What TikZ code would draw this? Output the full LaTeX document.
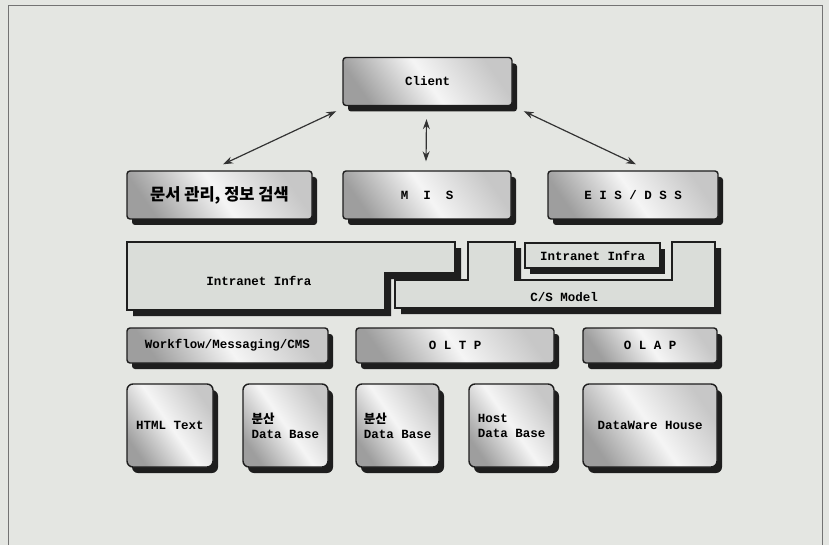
\documentclass[tikz,border=0pt]{standalone}
\usepackage{fontspec}
\newfontfamily\monofont{Liberation Mono}
\newfontfamily\krfont{Noto Sans CJK KR}
\usetikzlibrary{arrows.meta, shadows}
\definecolor{paper}{RGB}{228,230,226}
\definecolor{slab}{RGB}{218,221,217}
\definecolor{edge}{RGB}{30,30,30}

\begin{document}
\begin{tikzpicture}[x=1pt, y=-1pt,
  card/.style={draw=edge, line width=1.4pt, rounded corners=3pt,
    left color=black!38, right color=black!22, middle color=white!96!black, shading angle=125,
    drop shadow={shadow xshift=5pt, shadow yshift=-6pt, fill=edge, opacity=1},
    font=\monofont\bfseries\fontsize{12.5}{15}\selectfont, align=center},
  wide/.style={card, minimum height=48pt},
  flat/.style={card, minimum height=35pt},
  tall/.style={card, rounded corners=6pt, minimum height=83pt, align=left},
  link/.style={<->, >={Stealth[length=10pt,width=7pt]}, line width=1.2pt, draw=black!80},
  slabline/.style={draw=edge, line width=1.4pt, fill=slab},
  txt/.style={font=\monofont\bfseries\fontsize{12.5}{15}\selectfont}]
  \useasboundingbox (0,0) rectangle (829,545);
  \fill[paper] (0,0) rectangle (829,545);
  \draw[black!55, line width=1pt] (8,545) -- (8,6) -- (822,6) -- (822,545);

  % client and applications
  \node[wide, minimum width=169pt] (client) at (427.5,81.5) {Client};
  \node[wide, minimum width=185pt, font=\krfont\bfseries\fontsize{16.5}{19}\selectfont] (doc) at (219.5,195) {문서 관리, 정보 검색};
  \node[wide, minimum width=168pt] (mis) at (427,195) {M~~I~~S};
  \node[wide, minimum width=170pt] (eis) at (633,195) {E I S / D S S};

  \draw[link] ([shift={(-6pt,-5pt)}]client.south west) -- ([shift={(3.5pt,6pt)}]doc.north);
  \draw[link] ([shift={(-1pt,-13pt)}]client.south) -- ([shift={(-1pt,9pt)}]mis.north);
  \draw[link] ([shift={(11pt,-5pt)}]client.south east) -- ([shift={(3pt,6pt)}]eis.north);

  % infra layer
  \fill[edge, shift={(6,6)}] (127,242) -- (455,242) -- (455,273) -- (385,273) -- (385,310) -- (127,310) -- cycle;
  \path[slabline] (127,242) -- (455,242) -- (455,273) -- (385,273) -- (385,310) -- (127,310) -- cycle;
  \fill[edge, shift={(6,6)}] (395,308) -- (395,280) -- (468,280) -- (468,242) -- (515,242) -- (515,280)
    -- (672,280) -- (672,242) -- (715,242) -- (715,308) -- cycle;
  \path[slabline] (395,308) -- (395,280) -- (468,280) -- (468,242) -- (515,242) -- (515,280)
    -- (672,280) -- (672,242) -- (715,242) -- (715,308) -- cycle;
  \node[txt] (infraL) at (259,281) {Intranet Infra};
  \node[txt] (csmodel) at (564,297) {C/S Model};
  \node[slabline, txt, minimum width=135pt, minimum height=25pt,
    drop shadow={shadow xshift=5pt, shadow yshift=-6pt, fill=edge, opacity=1}] (infraR) at (592.5,255.5) {Intranet Infra};

  % middleware
  \node[flat, minimum width=201pt] (wf) at (227.5,345.5) {Workflow/Messaging/CMS};
  \node[flat, minimum width=198pt] (oltp) at (455,345.5) {O L T P};
  \node[flat, minimum width=134pt] (olap) at (650,345.5) {O L A P};

  % data stores
  \node[tall, minimum width=86pt] (html) at (170,425.5) {HTML Text};
  \node[tall, minimum width=85pt] (dbA) at (285.5,425.5) {{\krfont\bfseries 분산}\\Data Base};
  \node[tall, minimum width=83pt] (dbB) at (397.5,425.5) {{\krfont\bfseries 분산}\\Data Base};
  \node[tall, minimum width=85pt] (dbH) at (511.5,425.5) {Host\\Data Base};
  \node[tall, minimum width=134pt] (dw) at (650,425.5) {DataWare House};
\end{tikzpicture}
\end{document}
